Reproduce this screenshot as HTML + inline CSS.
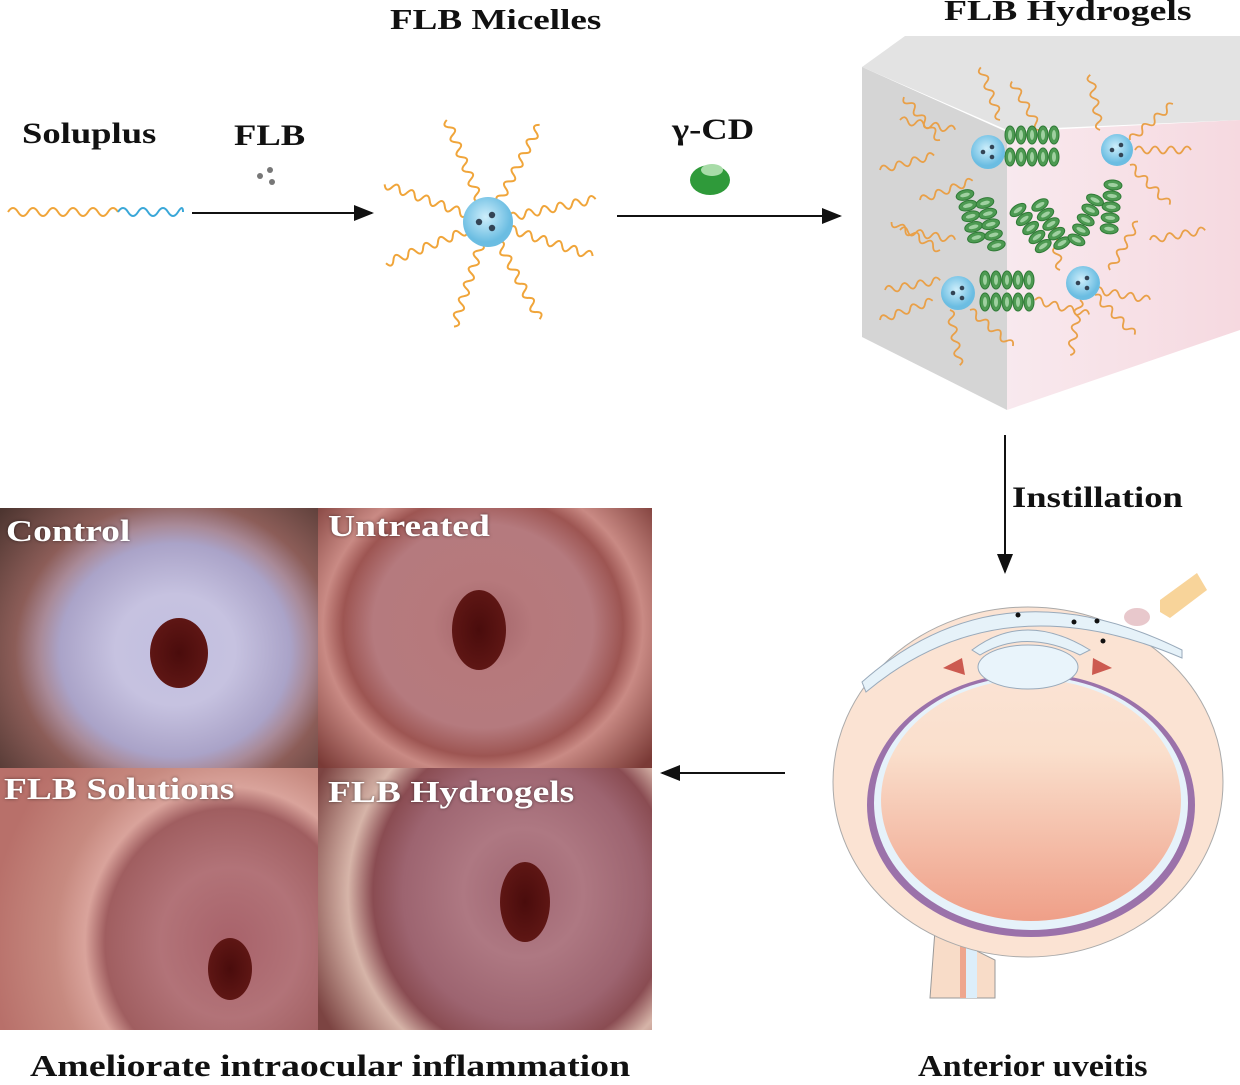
<!DOCTYPE html>
<html><head><meta charset="utf-8"><style>
html,body{margin:0;padding:0;background:#fff;}
body{width:1240px;height:1085px;position:relative;overflow:hidden;font-family:"Liberation Serif",serif;}
.t{position:absolute;font-weight:bold;color:#111;white-space:nowrap;transform:scaleX(1.22);transform-origin:0 0;}
.ph{position:absolute;overflow:hidden;}
.lab{position:absolute;color:#fff;font-weight:bold;font-size:31px;text-shadow:0 0 3px rgba(0,0,0,.5);white-space:nowrap;transform:scaleX(1.21);transform-origin:0 0;}
.pu{position:absolute;border-radius:50%;background:radial-gradient(#4a0c0c,#5e1614 70%,rgba(94,22,20,0) 100%);}
</style></head><body>

<div class="ph" style="left:0;top:508px;width:318px;height:260px;background:radial-gradient(ellipse 135px 125px at 175px 142px,#c2bfe0 0,#c6c2e0 60px,#aaa3c8 115px,#a98a98 135px,#8c5d58 160px,#4d3530 230px)"></div>
<div class="pu" style="left:150px;top:618px;width:58px;height:70px"></div>
<div class="ph" style="left:318px;top:508px;width:334px;height:260px;background:radial-gradient(ellipse 140px 130px at 165px 118px,#a26368 0,#b6797c 50px,#b57a7e 110px,#9d5552 140px,#c98a84 160px,#7a3a36 220px)"></div>
<div class="pu" style="left:452px;top:590px;width:54px;height:80px"></div>
<div class="ph" style="left:0;top:768px;width:318px;height:262px;background:radial-gradient(ellipse 130px 140px at 230px 175px,#a8626a 0,#b27378 70px,#a05e60 125px,#d9a39b 145px,#c78a80 175px,#b8706a 240px)"></div>
<div class="pu" style="left:208px;top:938px;width:44px;height:62px"></div>
<div class="ph" style="left:318px;top:768px;width:334px;height:262px;background:radial-gradient(ellipse 140px 150px at 205px 125px,#a06672 0,#ae7882 60px,#9d6470 120px,#8a4c52 150px,#d6b4a8 175px,#7c4442 230px)"></div>
<div class="pu" style="left:500px;top:862px;width:50px;height:80px"></div>
<div class="lab" style="left:6px;top:513px">Control</div>
<div class="lab" style="left:328px;top:508px">Untreated</div>
<div class="lab" style="left:4px;top:771px">FLB Solutions</div>
<div class="lab" style="left:328px;top:774px">FLB Hydrogels</div>

<div class="t" style="left:390px;top:4px;font-size:29px;transform:scaleX(1.28)">FLB Micelles</div>
<div class="t" style="left:944px;top:-5px;font-size:29px;transform:scaleX(1.3)">FLB Hydrogels</div>
<div class="t" style="left:22px;top:117px;font-size:30px">Soluplus</div>
<div class="t" style="left:234px;top:119px;font-size:30px">FLB</div>
<div class="t" style="left:672px;top:113px;font-size:30px">γ-CD</div>
<div class="t" style="left:1012px;top:481px;font-size:30px">Instillation</div>
<div class="t" style="left:30px;top:1048px;font-size:31px">Ameliorate intraocular inflammation</div>
<div class="t" style="left:918px;top:1048px;font-size:31px;transform:scaleX(1.1)">Anterior uveitis</div>

<svg width="1240" height="1085" style="position:absolute;left:0;top:0">
<defs>
<marker id="ah" markerWidth="10" markerHeight="10" refX="9" refY="5" orient="auto"><path d="M0,1 L10,5 L0,9 z" fill="#111"/></marker>
<radialGradient id="ball" cx="45%" cy="40%"><stop offset="0" stop-color="#cdeefb"/><stop offset="1" stop-color="#6bbde2"/></radialGradient>
<linearGradient id="eyeg" x1="0" y1="0" x2="0" y2="1"><stop offset="0" stop-color="#fbe3d4"/><stop offset="0.3" stop-color="#fadfcc"/><stop offset="1" stop-color="#ef9f88"/></linearGradient>
<linearGradient id="pinkf" x1="0" y1="0" x2="1" y2="0"><stop offset="0" stop-color="#f8e9ee"/><stop offset="1" stop-color="#f6d9e0"/></linearGradient>
<path id="wv" d="M0,0 q4,-8 8,0 t8,0 t8,0 t8,0 t8,0 t8,0 t8,0 t8,0 t8,0 t8,0 t8,0" fill="none" stroke="#f0a53a" stroke-width="2"/>
<path id="sw" d="M0,0 q4,-7 8,0 t8,0 t8,0 t8,0 t8,0 t8,0 t8,0" fill="none" stroke="#e9a048" stroke-width="1.8"/>
<g id="hx"><ellipse cx="0" cy="0" rx="5" ry="9" fill="#4d9a52" stroke="#2f7a36" stroke-width="1"/><ellipse cx="0" cy="0" rx="2" ry="5" fill="#9fd0a0"/></g>
<g id="row"><use href="#hx" x="0"/><use href="#hx" x="11"/><use href="#hx" x="22"/><use href="#hx" x="33"/><use href="#hx" x="44"/></g>
</defs>
<path d="M8,212 q5,-8 10,0 t10,0 t10,0 t10,0 t10,0 t10,0 t10,0 t10,0 t10,0 t10,0 t10,0" fill="none" stroke="#f0a53a" stroke-width="2"/>
<path d="M118,212 q5,-8 10,0 t10,0 t10,0 t10,0 t10,0 t10,0 t5,0" fill="none" stroke="#3aa7d8" stroke-width="2"/>
<circle cx="260" cy="176" r="3" fill="#777"/><circle cx="270" cy="170" r="3" fill="#777"/><circle cx="272" cy="182" r="3" fill="#777"/>
<line x1="192" y1="213" x2="372" y2="213" stroke="#111" stroke-width="2" marker-end="url(#ah)"/>
<g transform="translate(488,222)">
<use href="#wv" transform="rotate(-112) translate(22,0)"/><use href="#wv" transform="rotate(-62) translate(22,0)"/>
<use href="#wv" transform="rotate(-12) translate(22,0)"/><use href="#wv" transform="rotate(18) translate(22,0)"/>
<use href="#wv" transform="rotate(62) translate(22,0)"/><use href="#wv" transform="rotate(108) translate(22,0)"/>
<use href="#wv" transform="rotate(158) translate(22,0)"/><use href="#wv" transform="rotate(-160) translate(22,0)"/>
<circle r="25" fill="url(#ball)"/>
<circle cx="-9" cy="0" r="3.2" fill="#345"/><circle cx="4" cy="-7" r="3.2" fill="#345"/><circle cx="4" cy="6" r="3.2" fill="#345"/>
</g>
<ellipse cx="710" cy="180" rx="20" ry="15" fill="#2f9a3a"/><ellipse cx="712" cy="170" rx="11" ry="6" fill="#a8dca8"/>
<line x1="617" y1="216" x2="840" y2="216" stroke="#111" stroke-width="2" marker-end="url(#ah)"/>
<polygon points="862,67 905,36 1240,36 1240,120 1007,130" fill="#e3e3e3"/>
<polygon points="862,67 1007,132 1007,410 862,337" fill="#d5d5d5"/>
<polygon points="1007,132 1240,120 1240,330 1007,410" fill="url(#pinkf)"/>
<g>
<use href="#sw" transform="translate(900,120) rotate(10)"/><use href="#sw" transform="translate(880,170) rotate(-15)"/>
<use href="#sw" transform="translate(940,140) rotate(-130)"/><use href="#sw" transform="translate(1000,120) rotate(-110)"/>
<use href="#sw" transform="translate(1040,130) rotate(-120)"/><use href="#sw" transform="translate(1100,130) rotate(-100)"/>
<use href="#sw" transform="translate(1130,140) rotate(-40)"/><use href="#sw" transform="translate(1135,150) rotate(0)"/>
<use href="#sw" transform="translate(1130,165) rotate(45)"/><use href="#sw" transform="translate(900,230) rotate(10)"/>
<use href="#sw" transform="translate(920,200) rotate(-20)"/><use href="#sw" transform="translate(885,290) rotate(-10)"/>
<use href="#sw" transform="translate(880,320) rotate(-20)"/><use href="#sw" transform="translate(950,310) rotate(80)"/>
<use href="#sw" transform="translate(970,310) rotate(40)"/><use href="#sw" transform="translate(1035,300) rotate(15)"/>
<use href="#sw" transform="translate(1095,290) rotate(10)"/><use href="#sw" transform="translate(1095,295) rotate(45)"/>
<use href="#sw" transform="translate(1080,300) rotate(100)"/><use href="#sw" transform="translate(1060,270) rotate(-100)"/>
<use href="#sw" transform="translate(1110,270) rotate(-60)"/><use href="#sw" transform="translate(940,250) rotate(-150)"/>
<use href="#sw" transform="translate(1150,240) rotate(-10)"/>
</g>
<use href="#row" transform="translate(1010,135)"/><use href="#row" transform="translate(1010,157)"/>
<use href="#row" transform="translate(985,280)"/><use href="#row" transform="translate(985,302)"/>
<use href="#row" transform="translate(965,195) rotate(75)"/><use href="#row" transform="translate(985,203) rotate(75)"/>
<use href="#row" transform="translate(1018,210) rotate(55)"/><use href="#row" transform="translate(1040,205) rotate(60)"/>
<use href="#row" transform="translate(1095,200) rotate(115)"/><use href="#row" transform="translate(1113,185) rotate(95)"/>
<circle cx="988" cy="152" r="17" fill="url(#ball)"/><circle cx="1117" cy="150" r="16" fill="url(#ball)"/>
<circle cx="958" cy="293" r="17" fill="url(#ball)"/><circle cx="1083" cy="283" r="17" fill="url(#ball)"/>
<g fill="#345"><circle cx="983" cy="152" r="2.3"/><circle cx="992" cy="147" r="2.3"/><circle cx="992" cy="157" r="2.3"/>
<circle cx="1112" cy="150" r="2.3"/><circle cx="1121" cy="145" r="2.3"/><circle cx="1121" cy="155" r="2.3"/>
<circle cx="953" cy="293" r="2.3"/><circle cx="962" cy="288" r="2.3"/><circle cx="962" cy="298" r="2.3"/>
<circle cx="1078" cy="283" r="2.3"/><circle cx="1087" cy="278" r="2.3"/><circle cx="1087" cy="288" r="2.3"/></g>
<line x1="1005" y1="435" x2="1005" y2="572" stroke="#111" stroke-width="2" marker-end="url(#ah)"/>
<path d="M935,930 L930,998 L995,998 L995,960 Z" fill="#f8dcc8" stroke="#999" stroke-width="1"/>
<rect x="963" y="925" width="14" height="73" fill="#dceefa"/><rect x="960" y="930" width="6" height="68" fill="#eea68e"/>
<ellipse cx="1028" cy="782" rx="195" ry="175" fill="#fbe3d3" stroke="#aaa" stroke-width="1"/>
<ellipse cx="1031" cy="805" rx="164" ry="132" fill="#9b72aa"/>
<ellipse cx="1031" cy="803" rx="157" ry="127" fill="#e6f2fa"/>
<ellipse cx="1031" cy="800" rx="150" ry="121" fill="url(#eyeg)"/>
<path d="M862,682 Q1000,560 1182,650 L1182,658 Q1000,580 866,692 z" fill="#e6f2f9" stroke="#9ab" stroke-width="1"/>
<path d="M972,650 Q1025,610 1090,650 L1080,655 Q1025,628 980,655 z" fill="#e6f2f9" stroke="#9ab"/>
<ellipse cx="1028" cy="667" rx="50" ry="22" fill="#e9f4fb" stroke="#9ab"/>
<polygon points="943,668 962,658 965,675" fill="#cc5a50"/><polygon points="1112,668 1093,658 1092,675" fill="#cc5a50"/>
<circle cx="1018" cy="615" r="2.5" fill="#111"/><circle cx="1074" cy="622" r="2.5" fill="#111"/><circle cx="1097" cy="621" r="2.5" fill="#111"/><circle cx="1103" cy="641" r="2.5" fill="#111"/>
<ellipse cx="1137" cy="617" rx="13" ry="9" fill="#e8c8cc"/>
<polygon points="1160,600 1160,612 1170,618 1207,590 1197,573" fill="#f8d49a"/>
<line x1="785" y1="773" x2="662" y2="773" stroke="#111" stroke-width="2" marker-end="url(#ah)"/>
</svg>
</body></html>
